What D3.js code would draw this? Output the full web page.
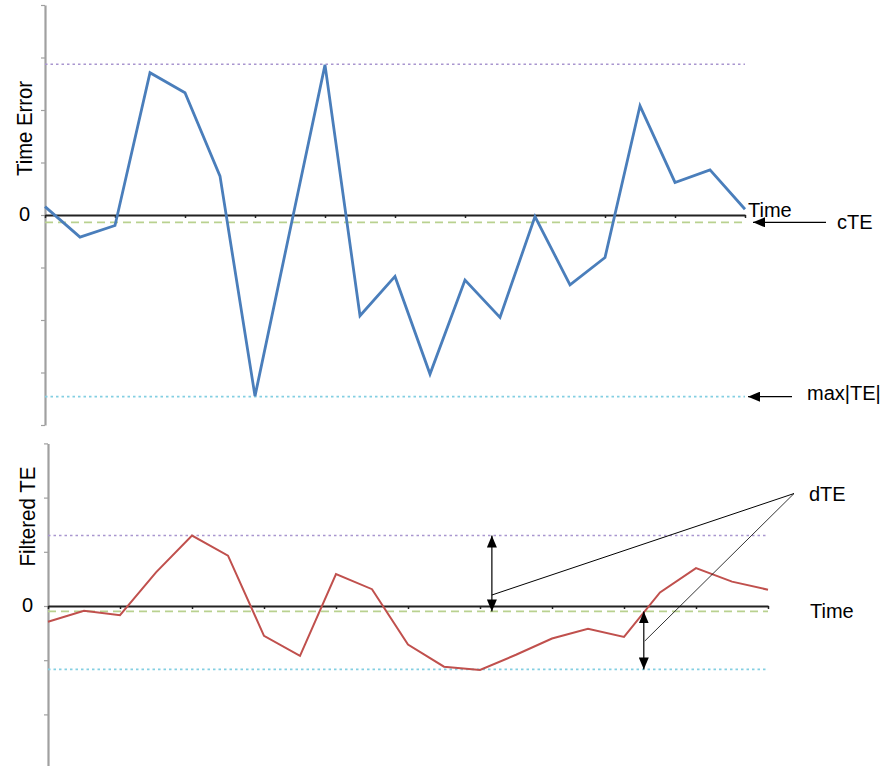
<!DOCTYPE html>
<html>
<head>
<meta charset="utf-8">
<script src="https://cdn.jsdelivr.net/npm/d3@7"></script>
<style>
  html, body { margin: 0; padding: 0; background: #fff; }
  svg { display: block; font-family: "Liberation Sans", Arial, sans-serif; }
</style>
</head>
<body>
<svg id="chart" width="890" height="766"></svg>
<script>
// ---------- data ----------
const timeIndex = d3.range(0, 21);
const teValues = [0.16, -0.42, -0.2, 2.71, 2.33, 0.74, -3.45, -0.29, 2.86, -1.92, -1.17,
                  -3.03, -1.24, -1.95, -0.03, -1.33, -0.81, 2.08, 0.62, 0.86, 0.11];
const filteredValues = [-0.29, -0.09, -0.17, 0.62, 1.3, 0.93, -0.55, -0.92, 0.59, 0.31, -0.71,
                        -1.12, -1.18, -0.9, -0.6, -0.42, -0.57, 0.25, 0.7, 0.45, 0.3];
const topYTicks = [-4, -3, -2, -1, 0, 1, 2, 3, 4];
const bottomYTicks = [-3, -2, -1, 0, 1, 2, 3];
const xTicks = [0, 2, 4, 6, 8, 10, 12, 14, 16, 18, 20];
const zeroLabel = "0";
const topRefs = { max: 2.87, cte: -0.14, min: -3.46 };
const bottomRefs = { max: 1.3, cte: -0.1, min: -1.17 };
const dteArrowX = [12.33, 16.55];

// ---------- styling ----------
const blue = "#4a7ebb", red = "#c0504d";
const purple = "#a996cf", green = "#b9d18f", cyan = "#84cfe2";
const axisGray = "#a0a0a0";

const svg = d3.select("#chart");
const defs = svg.append("defs");
defs.append("marker").attr("id", "ah").attr("viewBox", "0 0 12 10")
  .attr("refX", 12).attr("refY", 5).attr("markerWidth", 12).attr("markerHeight", 10)
  .attr("markerUnits", "userSpaceOnUse").attr("orient", "auto-start-reverse")
  .append("path").attr("d", "M0,0 L12,5 L0,10 Z").attr("fill", "#000");

function panel(cfg) {
  const g = svg.append("g");
  const x = d3.scaleLinear().domain([0, 20]).range(cfg.xr);
  const y = d3.scaleLinear().domain(cfg.yd).range(cfg.yr);

  // y axis
  const ya = g.append("g").attr("transform", `translate(${cfg.xr[0]},0)`)
    .call(d3.axisLeft(y).tickValues(cfg.yTicks).tickSize(4).tickSizeOuter(0).tickFormat(""));
  ya.select(".domain").attr("stroke", axisGray).attr("stroke-width", 2.2);
  ya.selectAll(".tick line").attr("stroke", axisGray).attr("stroke-width", 1.2);

  // reference lines
  const refs = [
    { v: cfg.refs.max, c: purple, d: "2.5,3", w: 1.4 },
    { v: cfg.refs.cte, c: green, d: "8,5", w: 1.6 },
    { v: cfg.refs.min, c: cyan, d: "2.5,3", w: 1.6 }
  ];
  g.selectAll(".ref").data(refs).enter().append("line")
    .attr("x1", cfg.xr[0]).attr("x2", cfg.xr[1])
    .attr("y1", d => y(d.v)).attr("y2", d => y(d.v))
    .attr("stroke", d => d.c).attr("stroke-dasharray", d => d.d).attr("stroke-width", d => d.w);

  // zero axis
  const xa = g.append("g").attr("transform", `translate(0,${y(0)})`)
    .call(d3.axisBottom(x).tickValues(xTicks).tickSize(3).tickSizeOuter(0).tickFormat(""));
  xa.select(".domain").attr("stroke", "#222").attr("stroke-width", 2);
  xa.selectAll(".tick line").attr("stroke", "#222").attr("stroke-width", 1.5);

  // series
  g.append("path").datum(cfg.values)
    .attr("fill", "none").attr("stroke", cfg.color).attr("stroke-width", cfg.lw)
    .attr("stroke-linejoin", "miter")
    .attr("d", d3.line().x((d, i) => x(timeIndex[i])).y(d => y(d)));

  // labels
  g.append("text").attr("x", cfg.xr[0] - 15).attr("y", y(0) + 6)
    .attr("text-anchor", "end").attr("font-size", 20).text(zeroLabel);
  g.append("text")
    .attr("transform", `translate(${cfg.titleX},${cfg.titleY}) rotate(-90)`)
    .attr("text-anchor", "middle").attr("font-size", 22)
    .attr("textLength", cfg.titleLen).attr("lengthAdjust", "spacingAndGlyphs")
    .text(cfg.title);
  return { g, x, y };
}

const topP = panel({
  xr: [45, 745], yd: [-4, 4], yr: [425, 5], yTicks: topYTicks,
  values: teValues, color: blue, lw: 2.8, refs: topRefs,
  title: "Time Error", titleX: 31.5, titleY: 128.5, titleLen: 95
});
const botP = panel({
  xr: [48, 768], yd: [-3, 3], yr: [768.6, 443.4], yTicks: bottomYTicks,
  values: filteredValues, color: red, lw: 2, refs: bottomRefs,
  title: "Filtered TE", titleX: 35, titleY: 516.5, titleLen: 100
});

// ---------- top annotations ----------
const ann = svg.append("g").attr("font-size", 20).attr("fill", "#000");
ann.append("text").attr("x", topP.x(20) + 3).attr("y", topP.y(0) + 2).text("Time");
ann.append("line").attr("x1", topP.x(20) + 81).attr("x2", topP.x(20) + 8)
  .attr("y1", topP.y(topRefs.cte)).attr("y2", topP.y(topRefs.cte))
  .attr("stroke", "#000").attr("stroke-width", 1.2).attr("marker-end", "url(#ah)");
ann.append("text").attr("x", topP.x(20) + 92).attr("y", topP.y(topRefs.cte) + 6.5).text("cTE");
ann.append("line").attr("x1", topP.x(20) + 47).attr("x2", topP.x(20) + 3)
  .attr("y1", topP.y(topRefs.min)).attr("y2", topP.y(topRefs.min))
  .attr("stroke", "#000").attr("stroke-width", 1.2).attr("marker-end", "url(#ah)");
ann.append("text").attr("x", topP.x(20) + 62).attr("y", topP.y(topRefs.min) + 3.5).text("max|TE|");

// ---------- bottom annotations ----------
const tipX = botP.x(20) + 26, tipY = botP.y(bottomRefs.max) - 42;
const a1x = botP.x(dteArrowX[0]), a2x = botP.x(dteArrowX[1]);
ann.append("line").attr("x1", a1x).attr("x2", a1x)
  .attr("y1", botP.y(bottomRefs.max)).attr("y2", botP.y(bottomRefs.cte))
  .attr("stroke", "#000").attr("stroke-width", 1.2)
  .attr("marker-start", "url(#ah)").attr("marker-end", "url(#ah)");
ann.append("line").attr("x1", a2x).attr("x2", a2x)
  .attr("y1", botP.y(bottomRefs.cte)).attr("y2", botP.y(bottomRefs.min))
  .attr("stroke", "#000").attr("stroke-width", 1.2)
  .attr("marker-start", "url(#ah)").attr("marker-end", "url(#ah)");
ann.append("line").attr("x1", a1x).attr("y1", botP.y(0) - 11).attr("x2", tipX).attr("y2", tipY)
  .attr("stroke", "#000").attr("stroke-width", 1);
ann.append("line").attr("x1", a2x + 1).attr("y1", botP.y(0) + 35).attr("x2", tipX).attr("y2", tipY)
  .attr("stroke", "#000").attr("stroke-width", 0.8);
ann.append("text").attr("x", tipX + 15).attr("y", tipY + 7).text("dTE");
ann.append("text").attr("x", botP.x(20) + 42).attr("y", botP.y(0) + 12).text("Time");
</script>
</body>
</html>
